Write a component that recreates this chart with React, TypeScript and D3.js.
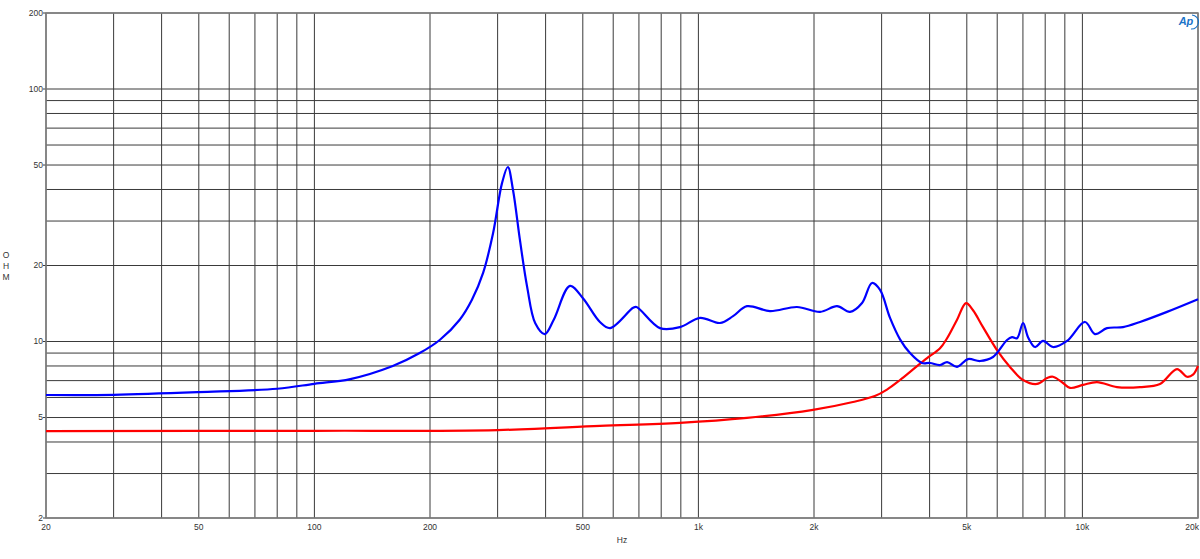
import React from "react";
import * as d3 from "d3";

const blueFreq = [20, 30, 50, 80, 100, 124, 160, 188, 212, 239, 257, 275, 292, 308, 319, 329, 343, 358, 376, 398, 420, 463, 501, 554, 589, 676, 690, 794, 895, 1010, 1138, 1231, 1338, 1536, 1806, 2074, 2296, 2482, 2668, 2832, 2972, 3155, 3350, 3557, 3822, 4010, 4258, 4442, 4716, 5036, 5412, 5851, 6364, 6558, 6758, 7006, 7218, 7527, 7898, 8385, 9120, 10157, 10783, 11588, 12758, 14126, 16610, 20000];
const blueOhm = [6.14, 6.15, 6.3, 6.5, 6.8, 7.1, 8.0, 9.0, 10.14, 12.2, 14.6, 18.7, 26.9, 42.4, 49.1, 39.8, 25.2, 16.5, 11.8, 10.7, 12.2, 16.6, 14.8, 11.95, 11.3, 13.6, 13.7, 11.3, 11.4, 12.4, 11.84, 12.6, 13.8, 13.2, 13.7, 13.1, 13.8, 13.1, 14.2, 17.05, 16.0, 12.4, 10.2, 9.0, 8.22, 8.22, 8.07, 8.29, 7.93, 8.52, 8.37, 8.68, 10.14, 10.4, 10.3, 11.84, 10.4, 9.51, 10.05, 9.51, 10.05, 11.95, 10.7, 11.3, 11.4, 11.95, 13.1, 14.7];

const redFreq = [20, 100, 300, 554, 895, 1338, 1988, 2526, 2880, 3098, 3350, 3622, 3940, 4258, 4442, 4716, 4976, 5190, 5510, 5992, 6478, 7006, 7618, 8090, 8385, 8902, 9284, 10036, 10914, 12306, 14126, 15924, 17632, 18726, 19410, 20000];
const redOhm = [4.42, 4.43, 4.46, 4.63, 4.76, 4.98, 5.36, 5.76, 6.08, 6.45, 7.04, 7.75, 8.6, 9.4, 10.3, 12.2, 14.2, 13.3, 11.4, 9.25, 7.93, 7.04, 6.79, 7.17, 7.25, 6.85, 6.55, 6.73, 6.91, 6.6, 6.6, 6.79, 7.78, 7.25, 7.39, 8.0];

const xTickValues = [20, 50, 100, 200, 500, 1000, 2000, 5000, 10000, 20000];
const xTickLabels = ["20", "50", "100", "200", "500", "1k", "2k", "5k", "10k", "20k"];
const yTickValues = [2, 5, 10, 20, 50, 100, 200];
const yTickLabels = ["2", "5", "10", "20", "50", "100", "200"];

function minorGrid(lo: number, hi: number): number[] {
  const out: number[] = [];
  for (let dec = 1; dec <= 100000; dec *= 10) {
    for (let m = 1; m <= 9; m++) {
      const v = m * dec;
      if (v >= lo - 1e-9 && v <= hi + 1e-9) out.push(v);
    }
  }
  return out;
}

export default function App() {
  const W = 1200, H = 559;
  const L = 46, R = 1198, T = 13, B = 518;
  const x = d3.scaleLog().domain([20, 20000]).range([L, R]);
  const y = d3.scaleLog().domain([2, 200]).range([B, T]);
  const xGrid = minorGrid(20, 20000);
  const yGrid = minorGrid(2, 200);
  const line = d3.line<[number, number]>()
    .x((d) => x(d[0]))
    .y((d) => y(d[1]))
    .curve(d3.curveCatmullRom.alpha(0.5));
  const blue = line(blueFreq.map((f, i) => [f, blueOhm[i]] as [number, number])) || "";
  const red = line(redFreq.map((f, i) => [f, redOhm[i]] as [number, number])) || "";
  const font = "'Liberation Sans', Arial, sans-serif";
  return (
    <svg width={W} height={H} style={{ position: "absolute", left: 0, top: 0, background: "#fff" }}
      fontFamily={font}>
      <rect x={0} y={0} width={W} height={H} fill="#fff" />
      {xGrid.map((v) => (
        <line key={"gx" + v} x1={x(v)} x2={x(v)} y1={T} y2={B} stroke="#3a3a3a" strokeWidth={1} />
      ))}
      {yGrid.map((v) => (
        <line key={"gy" + v} x1={L} x2={R} y1={y(v)} y2={y(v)} stroke="#3a3a3a" strokeWidth={1} />
      ))}
      {yTickValues.map((v) => (
        <line key={"yt" + v} x1={L - 3} x2={L} y1={y(v)} y2={y(v)} stroke="#3a3a3a" strokeWidth={1} />
      ))}
      <rect x={L} y={T} width={R - L} height={B - T} fill="none" stroke="#808080" strokeWidth={1.5} />
      <path d={red} fill="none" stroke="#ff0000" strokeWidth={2.2} strokeLinejoin="round" />
      <path d={blue} fill="none" stroke="#0000ff" strokeWidth={2.2} strokeLinejoin="round" />
      {yTickValues.map((v, i) => (
        <text key={"yl" + v} x={L - 3} y={y(v)} dy="0.35em" textAnchor="end" fontSize={8.5} fill="#333">
          {yTickLabels[i]}
        </text>
      ))}
      {xTickValues.map((v, i) => (
        <text key={"xl" + v} x={i === xTickValues.length - 1 ? R + 1 : x(v)} y={B + 12}
          textAnchor={i === xTickValues.length - 1 ? "end" : "middle"} fontSize={8.5} fill="#333">
          {xTickLabels[i]}
        </text>
      ))}
      <text x={(L + R) / 2} y={543} textAnchor="middle" fontSize={8.5} fill="#333">Hz</text>
      <text x={6} y={258} textAnchor="middle" fontSize={8.5} fill="#333">O</text>
      <text x={6} y={269} textAnchor="middle" fontSize={8.5} fill="#333">H</text>
      <text x={6} y={280} textAnchor="middle" fontSize={8.5} fill="#333">M</text>
      <g>
        <text x={1186} y={25} textAnchor="middle" fontSize={11} fontStyle="italic" fontWeight="bold" fill="#1a73c8">Ap</text>
        <path d="M1192,15 A7,7 0 0 1 1191,29" fill="none" stroke="#1a73c8" strokeWidth={1.1} />
      </g>
    </svg>
  );
}
